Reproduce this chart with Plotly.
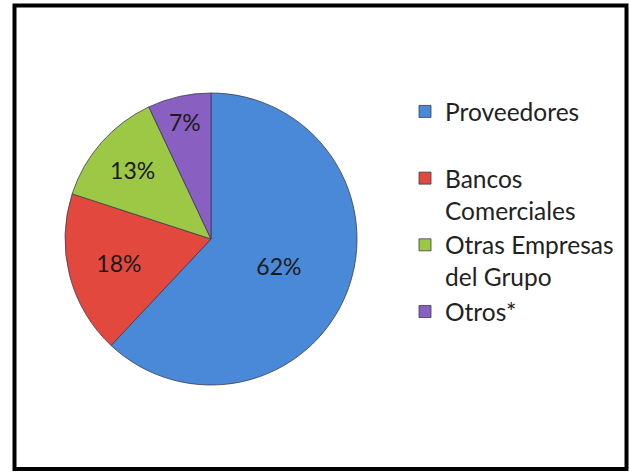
import plotly.graph_objects as go

categories = ["Proveedores<br>\u00a0", "Bancos<br>Comerciales", "Otras Empresas<br>del Grupo", "Otros*"]
values = [62, 18, 13, 7]
text_labels = ["62%", "18%", "13%", "7%"]
colors = ["#4a89d8", "#e3483f", "#9dc845", "#8a5fc2"]

W, H = 629, 472

fig = go.Figure(
    go.Pie(
        labels=categories,
        values=values,
        text=text_labels,
        textinfo="text",
        textposition="inside",
        insidetextorientation="horizontal",
        sort=False,
        direction="clockwise",
        rotation=0,
        marker=dict(colors=colors, line=dict(color="#3a3a50", width=0.8)),
        textfont=dict(family="Lato", size=23, color="#1a1a1a"),
        domain=dict(x=[65 / W, 357 / W], y=[87 / H, 379 / H]),
        hoverinfo="label+percent",
    )
)

fig.update_layout(
    width=W,
    height=H,
    margin=dict(l=0, r=0, t=0, b=0),
    paper_bgcolor="white",
    plot_bgcolor="white",
    font=dict(family="Lato", size=24, color="#222222"),
    showlegend=True,
    legend=dict(
        x=405 / W,
        y=1 - 89 / H,
        xanchor="left",
        yanchor="top",
        valign="top",
        tracegroupgap=0,
        font=dict(family="Lato", size=24.5, color="#222222"),
        bgcolor="rgba(0,0,0,0)",
    ),
    shapes=[
        dict(
            type="rect",
            xref="paper",
            yref="paper",
            x0=14.5 / W,
            x1=626.5 / W,
            y0=1 - 469 / H,
            y1=1 - 5.5 / H,
            line=dict(color="black", width=4),
            fillcolor="rgba(0,0,0,0)",
            layer="above",
        )
    ],
)

fig.write_html(
    "out.html",
    config={"displayModeBar": False},
    post_script="document.body.style.margin='0';document.body.style.overflow='hidden';",
)
